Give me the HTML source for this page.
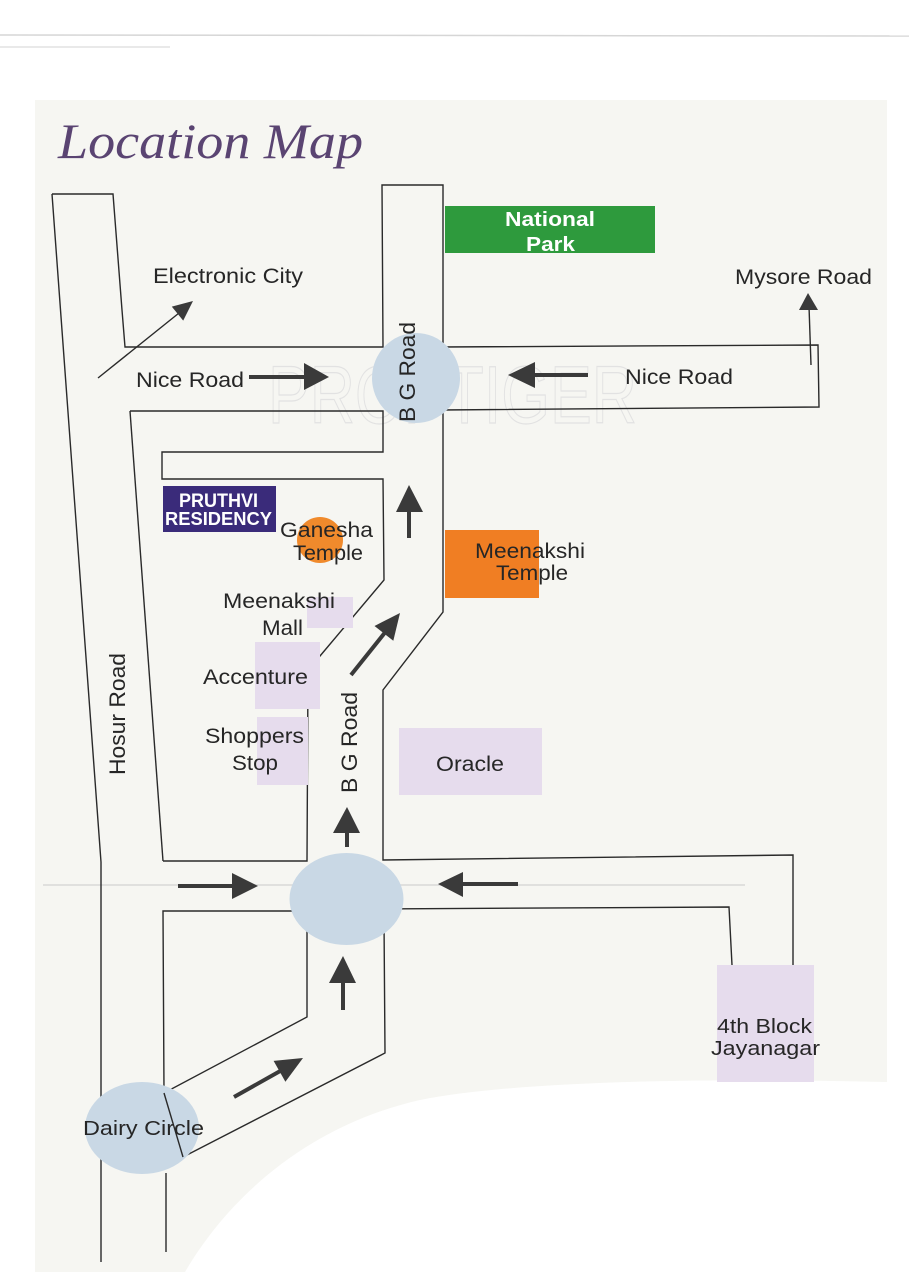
<!DOCTYPE html>
<html><head><meta charset="utf-8"><style>
html,body{margin:0;padding:0;background:#fff;}
svg{display:block;}
text{font-family:"Liberation Sans",Arial,sans-serif;fill:#262626;}
</style></head><body>
<svg width="909" height="1272" viewBox="0 0 909 1272" xmlns="http://www.w3.org/2000/svg">
<rect width="909" height="1272" fill="#ffffff"/>
<line x1="0" y1="35" x2="909" y2="36" stroke="#d6d6d6" stroke-width="1.5"/>
<line x1="0" y1="47" x2="170" y2="47" stroke="#dcdcdc" stroke-width="1.2"/>
<path d="M35,100 H887 V1082 C720,1078 520,1080 420,1100 C310,1125 230,1195 185,1272 H35 Z" fill="#f6f6f2"/>
<line x1="43" y1="885" x2="745" y2="885" stroke="#d8d8d8" stroke-width="1.5"/>

<!-- Title -->
<text x="58" y="158" font-style="italic" font-size="50" textLength="305" lengthAdjust="spacingAndGlyphs" style="font-family:'Liberation Serif',serif;fill:#5a4472;">Location Map</text>

<!-- watermark -->
<text x="268" y="423" font-size="82" textLength="369" lengthAdjust="spacingAndGlyphs" style="fill:none;stroke:#e2e2e2;stroke-width:1.2;">PROPTIGER</text>

<g fill="none" stroke="#2a2a2a" stroke-width="1.4" stroke-linejoin="miter">
  <polyline points="52,194 101,862 101,1262"/>
  <polyline points="52,194 113,194 122,310 125,347 383,347 382,185 443,185 443,343"/>
  <polyline points="440,347 818,345 819,407 440,410"/>
  <polyline points="130,411 383,411 383,452 162,452 162,479 383,479 384,580 320,656 308,670 307,861 163,861"/>
  <line x1="130" y1="411" x2="163" y2="861"/>
  <polyline points="443,410 443,612 383,690 383,860 793,855 793,965"/>
  <polyline points="330,911 163,911 164,1093 307,1017 307,920"/>
  <polyline points="183,1157 385,1053 384,920"/>
  <polyline points="370,909 729,907 732,965"/>
  <line x1="166" y1="1173" x2="166" y2="1252"/>
</g>

<!-- circles -->
<ellipse cx="416" cy="378" rx="44" ry="45" fill="#c9d8e5"/>
<ellipse cx="346.5" cy="899" rx="57" ry="46" fill="#c9d8e5"/>
<ellipse cx="142" cy="1128" rx="57" ry="46" fill="#c9d8e5"/>
<line x1="164" y1="1093" x2="183" y2="1157" stroke="#2a2a2a" stroke-width="1.4"/>

<!-- boxes -->
<rect x="445" y="206" width="210" height="47" fill="#2e9a3d"/>
<rect x="163" y="486" width="113" height="46" fill="#3a2b7a"/>
<rect x="445" y="530" width="94" height="68" fill="#f07e23"/>
<circle cx="320" cy="540" r="23" fill="#f08a2c"/>
<g fill="#e6dced">
  <rect x="307" y="597" width="46" height="31"/>
  <rect x="255" y="642" width="65" height="67"/>
  <rect x="257" y="717" width="51" height="68"/>
  <rect x="399" y="728" width="143" height="67"/>
  <rect x="717" y="965" width="97" height="117"/>
</g>

<!-- arrows -->
<g fill="#3a3a3a" stroke="none">
  <line x1="98" y1="378" x2="184" y2="309" stroke="#2a2a2a" stroke-width="1.4"/>
  <polygon points="193,301 183.2,320.6 171.8,306.6"/>
  <rect x="249" y="375" width="57" height="4"/>
  <polygon points="329,377 304,363 304,390"/>
  <rect x="533" y="373" width="55" height="4"/>
  <polygon points="508,375 535,362 535,388"/>
  <line x1="811" y1="365" x2="809" y2="306" stroke="#2a2a2a" stroke-width="1.4"/>
  <polygon points="808,293 818,310 799,310"/>
  <rect x="407" y="508" width="4" height="30"/>
  <polygon points="409,485 423,512 396,512"/>
  <line x1="351" y1="675" x2="387" y2="630" stroke="#3a3a3a" stroke-width="4"/>
  <polygon points="400,613 393.3,640.8 374.5,626"/>
  <rect x="345" y="830" width="4" height="17"/>
  <polygon points="347,807 360,833 333,833"/>
  <rect x="178" y="884" width="56" height="4"/>
  <polygon points="258,886 232,873 232,899"/>
  <rect x="461" y="882" width="57" height="4"/>
  <polygon points="438,884 463,872 463,897"/>
  <rect x="341" y="980" width="4" height="30"/>
  <polygon points="343,956 356,983 329,983"/>
  <line x1="234" y1="1097" x2="282" y2="1070" stroke="#3a3a3a" stroke-width="4"/>
  <polygon points="303,1058 285.4,1081.7 273.6,1060.9"/>
</g>

<!-- labels -->
<g font-size="21">
  <text x="153" y="283" font-size="21" textLength="150" lengthAdjust="spacingAndGlyphs">Electronic City</text>
  <text x="735" y="284" font-size="21" textLength="137" lengthAdjust="spacingAndGlyphs">Mysore Road</text>
  <text x="136" y="387" font-size="21" textLength="108" lengthAdjust="spacingAndGlyphs">Nice Road</text>
  <text x="625" y="384" font-size="21" textLength="108" lengthAdjust="spacingAndGlyphs">Nice Road</text>
  <text transform="translate(415,422) rotate(-90)" x="0" y="0" font-size="22" textLength="100" lengthAdjust="spacingAndGlyphs">B G Road</text>
  <text transform="translate(357,793) rotate(-90)" x="0" y="0" font-size="22" textLength="101" lengthAdjust="spacingAndGlyphs">B G Road</text>
  <text transform="translate(125,775) rotate(-90)" x="0" y="0" font-size="22" textLength="122" lengthAdjust="spacingAndGlyphs">Hosur Road</text>
  <text x="505" y="226" font-size="20" font-weight="bold" textLength="90" lengthAdjust="spacingAndGlyphs" style="fill:#ffffff;">National</text>
  <text x="526" y="251" font-size="20" font-weight="bold" textLength="49" lengthAdjust="spacingAndGlyphs" style="fill:#ffffff;">Park</text>
  <text x="179" y="507" font-size="19" font-weight="bold" textLength="79" lengthAdjust="spacingAndGlyphs" style="fill:#ffffff;">PRUTHVI</text>
  <text x="165" y="525" font-size="18" font-weight="bold" textLength="107" lengthAdjust="spacingAndGlyphs" style="fill:#ffffff;">RESIDENCY</text>
  <text x="280" y="537" font-size="21" textLength="93" lengthAdjust="spacingAndGlyphs">Ganesha</text>
  <text x="293" y="560" font-size="21" textLength="70" lengthAdjust="spacingAndGlyphs">Temple</text>
  <text x="475" y="558" font-size="21" textLength="110" lengthAdjust="spacingAndGlyphs">Meenakshi</text>
  <text x="496" y="580" font-size="21" textLength="72" lengthAdjust="spacingAndGlyphs">Temple</text>
  <text x="223" y="608" font-size="21" textLength="112" lengthAdjust="spacingAndGlyphs">Meenakshi</text>
  <text x="262" y="635" font-size="21" textLength="41" lengthAdjust="spacingAndGlyphs">Mall</text>
  <text x="203" y="684" font-size="21" textLength="105" lengthAdjust="spacingAndGlyphs">Accenture</text>
  <text x="205" y="743" font-size="21" textLength="99" lengthAdjust="spacingAndGlyphs">Shoppers</text>
  <text x="232" y="770" font-size="21" textLength="46" lengthAdjust="spacingAndGlyphs">Stop</text>
  <text x="436" y="771" font-size="21" textLength="68" lengthAdjust="spacingAndGlyphs">Oracle</text>
  <text x="83" y="1135" font-size="20" textLength="121" lengthAdjust="spacingAndGlyphs">Dairy Circle</text>
  <text x="717" y="1033" font-size="20" textLength="95" lengthAdjust="spacingAndGlyphs">4th Block</text>
  <text x="711" y="1055" font-size="20" textLength="109" lengthAdjust="spacingAndGlyphs">Jayanagar</text>
</g>
</svg>
</body></html>
